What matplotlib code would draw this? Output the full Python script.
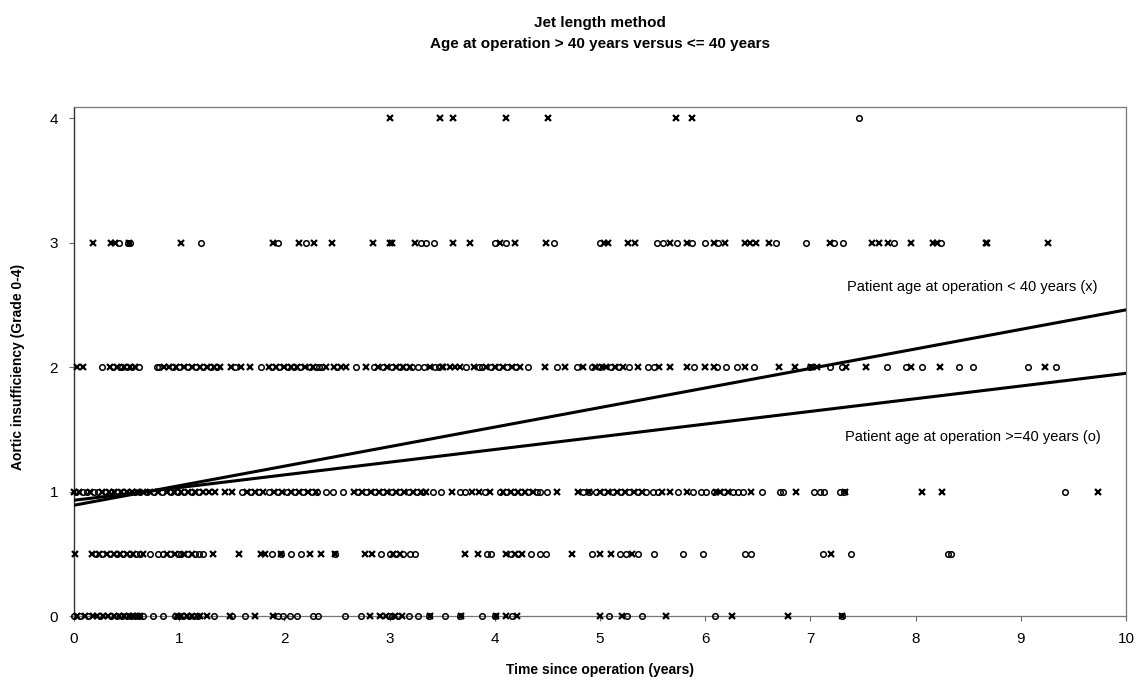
import matplotlib
matplotlib.use("Agg")
import matplotlib.pyplot as plt

plt.rcParams['font.family'] = ['Liberation Sans', 'DejaVu Sans']

# grade rows and years since operation
# x markers = patient age < 40, o markers = patient age >= 40
young_g4 = [3.0, 3.48, 3.60, 4.11, 4.51, 5.72, 5.87]
old_g4 = [7.46]

young_g3 = [0.18, 0.35, 0.39, 0.52, 1.02, 1.89, 2.14, 2.28, 2.45, 2.84, 3.0, 3.02,
            3.24, 3.60, 3.76, 4.05, 4.19, 4.49, 5.04, 5.08, 5.27, 5.33, 5.67, 5.83,
            6.08, 6.19, 6.38, 6.43, 6.48, 6.61, 7.19, 7.59, 7.65, 7.74, 7.96, 8.17,
            8.20, 8.67, 8.68, 9.26]
old_g3 = [0.43, 0.51, 0.53, 1.21, 1.94, 2.21, 3.30, 3.35, 3.42, 4.0, 4.11, 4.56,
          5.0, 5.54, 5.60, 5.73, 5.87, 6.0, 6.12, 6.67, 6.96, 7.22, 7.31, 7.79, 8.24]

young_g2 = [0.03, 0.09, 0.34, 0.41, 0.48, 0.53, 0.58, 0.86, 0.90, 0.97, 1.05, 1.12,
            1.20, 1.26, 1.33, 1.39, 1.49, 1.59, 1.67, 1.85, 1.92, 2.0, 2.06, 2.12,
            2.20, 2.27, 2.40, 2.47, 2.54, 2.59, 2.78, 2.89, 2.98, 3.06, 3.13, 3.19,
            3.38, 3.50, 3.51, 3.57, 3.62, 3.67, 3.80, 3.92, 4.00, 4.08, 4.16, 4.24,
            4.48, 4.67, 4.84, 4.95, 5.02, 5.06, 5.14, 5.22, 5.36, 5.56, 5.67, 5.83,
            6.0, 6.08, 6.38, 6.70, 6.85, 7.01, 7.06, 7.34, 7.53, 7.96, 8.23, 9.23]
old_g2 = [0.27, 0.37, 0.44, 0.46, 0.50, 0.55, 0.62, 0.79, 0.81, 0.94, 1.00, 1.08,
          1.16, 1.23, 1.30, 1.36, 1.53, 1.78, 1.88, 1.95, 2.03, 2.09, 2.15, 2.24,
          2.30, 2.33, 2.36, 2.50, 2.68, 2.85, 2.94, 3.02, 3.10, 3.16, 3.21, 3.27,
          3.33, 3.43, 3.47, 3.73, 3.85, 3.88, 3.96, 4.04, 4.12, 4.20, 4.32, 4.59,
          4.78, 4.92, 5.0, 5.10, 5.18, 5.28, 5.46, 5.51, 5.89, 6.11, 6.20, 6.30,
          6.46, 7.0, 7.19, 7.30, 7.73, 7.91, 8.06, 8.41, 8.55, 9.07, 9.33]

young_g1 = [0.0, 0.05, 0.15, 0.27, 0.33, 0.38, 0.45, 0.50, 0.55, 0.60, 0.66, 0.72,
            0.80, 0.88, 0.95, 1.02, 1.08, 1.15, 1.23, 1.28, 1.34, 1.44, 1.50, 1.64,
            1.72, 1.80, 1.90, 1.98, 2.06, 2.14, 2.22, 2.30, 2.66, 2.74, 2.82, 2.90,
            2.98, 3.06, 3.14, 3.22, 3.30, 3.35, 3.59, 3.78, 3.85, 3.95, 4.08, 4.15,
            4.22, 4.29, 4.36, 4.59, 4.79, 4.90, 5.0, 5.08, 5.16, 5.24, 5.32, 5.40,
            5.59, 5.67, 5.83, 6.10, 6.14, 6.22, 6.44, 6.86, 7.33, 8.06, 8.25, 9.73]
old_g1 = [0.02, 0.09, 0.12, 0.19, 0.23, 0.30, 0.36, 0.42, 0.47, 0.52, 0.58, 0.63,
          0.69, 0.76, 0.84, 0.92, 0.99, 1.05, 1.12, 1.19, 1.60, 1.68, 1.76, 1.85,
          1.94, 2.02, 2.10, 2.18, 2.26, 2.31, 2.40, 2.46, 2.56, 2.70, 2.78, 2.86,
          2.94, 3.02, 3.10, 3.18, 3.26, 3.32, 3.41, 3.49, 3.67, 3.72, 3.91, 4.05,
          4.11, 4.18, 4.25, 4.32, 4.40, 4.43, 4.50, 4.84, 4.90, 4.96, 5.04, 5.12,
          5.20, 5.28, 5.36, 5.44, 5.50, 5.55, 5.74, 5.88, 5.96, 6.01, 6.08, 6.18,
          6.26, 6.31, 6.36, 6.54, 6.71, 6.74, 7.03, 7.09, 7.13, 7.28, 7.32, 9.42]

young_g05 = [0.01, 0.17, 0.24, 0.31, 0.38, 0.44, 0.50, 0.56, 0.66, 0.88, 0.96, 1.05,
             1.12, 1.32, 1.57, 1.78, 1.82, 1.97, 2.24, 2.35, 2.48, 2.77, 2.83, 3.03,
             3.10, 3.72, 3.84, 4.11, 4.19, 4.26, 4.73, 5.0, 5.10, 5.30, 7.20]
old_g05 = [0.21, 0.27, 0.34, 0.41, 0.47, 0.53, 0.59, 0.63, 0.72, 0.80, 0.85, 0.91,
           0.99, 1.02, 1.08, 1.15, 1.19, 1.23, 1.88, 1.97, 2.06, 2.16, 2.48, 2.92,
           3.0, 3.06, 3.13, 3.19, 3.24, 3.93, 3.96, 4.15, 4.22, 4.34, 4.43, 4.49,
           4.92, 5.19, 5.25, 5.36, 5.51, 5.79, 5.98, 6.38, 6.44, 7.12, 7.39, 8.31, 8.34]

young_g0 = [0.03, 0.10, 0.18, 0.22, 0.28, 0.32, 0.38, 0.43, 0.48, 0.52, 0.56, 0.60,
            0.63, 0.98, 1.02, 1.07, 1.12, 1.20, 1.26, 1.48, 1.72, 1.89, 2.81, 2.91,
            2.97, 3.05, 3.12, 3.38, 3.68, 4.01, 4.11, 4.21, 5.0, 5.21, 5.63, 6.25,
            6.79, 7.30]
old_g0 = [0.0, 0.06, 0.13, 0.25, 0.35, 0.41, 0.46, 0.50, 0.54, 0.58, 0.62, 0.66,
          0.75, 0.85, 0.96, 1.0, 1.04, 1.09, 1.14, 1.18, 1.33, 1.50, 1.63, 1.94,
          1.99, 2.05, 2.12, 2.27, 2.32, 2.58, 2.73, 2.99, 3.02, 3.08, 3.18, 3.27,
          3.37, 3.53, 3.67, 3.88, 4.0, 4.16, 5.09, 5.26, 5.40, 6.09, 7.30]

young_rows = {4: young_g4, 3: young_g3, 2: young_g2, 1: young_g1, 0.5: young_g05, 0: young_g0}
old_rows = {4: old_g4, 3: old_g3, 2: old_g2, 1: old_g1, 0.5: old_g05, 0: old_g0}

# fitted lines
fit_x = [0, 10]
fit_young = [0.89, 2.46]
fit_old = [0.93, 1.95]

fig = plt.figure(figsize=(11.39, 6.81), dpi=100)
ax = fig.add_axes([74 / 1139, 65 / 681, 1052 / 1139, 509 / 681])

for grade, xs in young_rows.items():
    ax.plot(xs, [grade] * len(xs), linestyle='none', marker='x', ms=3.8, mew=1.6,
            color='black', clip_on=False, zorder=3)
for grade, xs in old_rows.items():
    ax.plot(xs, [grade] * len(xs), linestyle='none', marker='o', ms=4.0, mew=1.1,
            mfc='none', color='black', clip_on=False, zorder=3)

ax.plot(fit_x, fit_young, color='black', lw=2.2, zorder=4)
ax.plot(fit_x, fit_old, color='black', lw=2.2, zorder=4)

ax.text(7.35, 2.64, 'Patient age at operation < 40 years (x)', fontsize=10.5, va='center')
ax.text(7.33, 1.44, 'Patient age at operation >=40 years (o)', fontsize=10.5, va='center')

ax.set_xlim(0, 10)
ax.set_ylim(0, 4.09)
ax.set_xticks(range(0, 11))
ax.set_yticks([0, 1, 2, 3, 4])
ax.tick_params(axis='both', direction='out', length=3.5, width=0.8, color='#666666',
               labelsize=11, pad=8)

ax.spines['left'].set_color('#333333')
ax.spines['left'].set_linewidth(1.0)
for side in ['top', 'right', 'bottom']:
    ax.spines[side].set_color('#777777')
    ax.spines[side].set_linewidth(0.9)
    ax.spines[side].set_linestyle((0, (2, 1)))

fig.text(600 / 1139, 1 - 23 / 681, 'Jet length method', ha='center', va='center',
         fontsize=11, fontweight='bold')
fig.text(600 / 1139, 1 - 44 / 681, 'Age at operation > 40 years versus <= 40 years',
         ha='center', va='center', fontsize=11, fontweight='bold')
fig.text(600 / 1139, 1 - 670 / 681, 'Time since operation (years)', ha='center',
         va='center', fontsize=10, fontweight='bold')
fig.text(18 / 1139, 1 - 367 / 681, 'Aortic insufficiency (Grade 0-4)', ha='center',
         va='center', rotation=90, fontsize=10, fontweight='bold')

fig.savefig('out.png', dpi=100)
